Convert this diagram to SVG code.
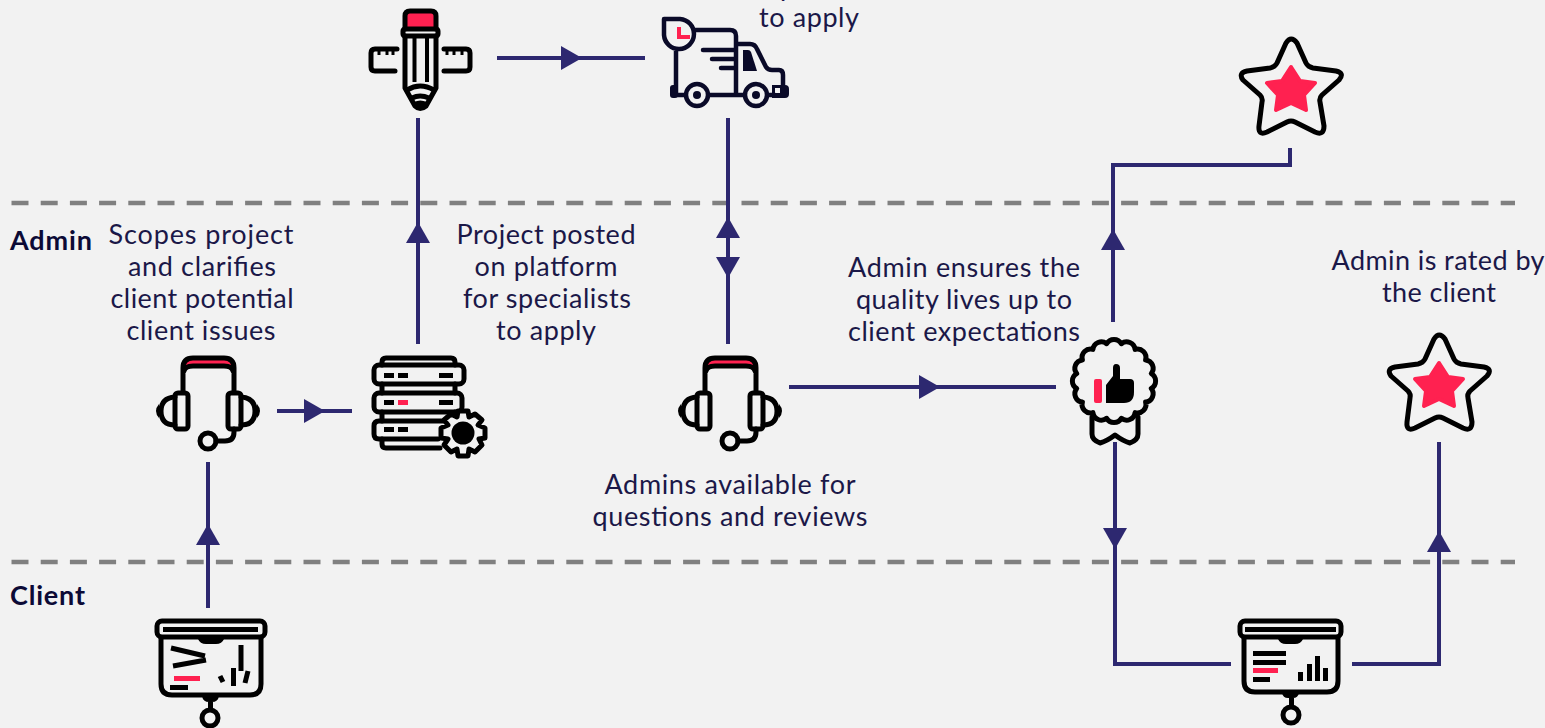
<svg xmlns="http://www.w3.org/2000/svg" xmlns:xlink="http://www.w3.org/1999/xlink" width="1545" height="728" viewBox="0 0 1545 728">
<style>
.t{font-family:"Lato","Noto Sans",sans-serif;font-size:27px;fill:#1b1848;text-anchor:middle}
.b{font-family:"Lato","Noto Sans",sans-serif;font-size:27px;font-weight:700;fill:#0c0a36}
.dash{stroke:#808080;stroke-width:4.500;stroke-dasharray:17 12.200;fill:none}
.l{fill:none;stroke:#2d2870;stroke-width:4}
.c{marker-mid:url(#tri)}
.o{fill:none;stroke:#000;stroke-width:5;stroke-linejoin:round;stroke-linecap:round}
.k{fill:#000}.r{fill:#ff2150}
.tr{fill:none;stroke:#0a0a28;stroke-width:4.500;stroke-linejoin:round;stroke-linecap:round}
</style>
<defs>
<marker id="tri" markerUnits="userSpaceOnUse" markerWidth="24" markerHeight="26" refX="10" refY="12" orient="auto"><path d="M0 0L21 12L0 24Z" fill="#2d2870"/></marker>
<g id="headset">
<path class="r" d="M183 368Q183 358 193 358H224Q234 358 234 368Q230 364 224 364H193Q187 364 183 368Z"/>
<path class="o" d="M183 392V368Q183 358 193 358H224Q234 358 234 368V392M184 371Q185 366 193 366H224Q232 366 233 371"/>
<rect class="o" x="175" y="393" width="13" height="36" rx="3"/>
<rect class="o" x="228" y="393" width="13" height="36" rx="3"/>
<path class="o" d="M175 397Q161 398 161 411Q161 425 175 425M241 397Q255 398 255 411Q255 425 241 425"/>
<path class="k" d="M159 404Q153 411 159 418ZM257 404Q263 411 257 418Z"/>
<circle class="o" cx="208" cy="441" r="8"/>
<path class="o" d="M216 441H225Q234 441 234 432V429"/>
</g>
<g id="star">
<path class="o" d="M1286 43Q1291 35 1297 43L1306 63Q1308 67 1313 68L1336 71Q1345 73 1339 80L1322 95Q1319 98 1320 102L1324 126Q1324 136 1315 132L1295 122Q1291 120 1287 122L1267 132Q1258 136 1259 126L1262 102Q1263 98 1260 95L1243 80Q1238 73 1247 71L1270 68Q1275 67 1277 63Z"/>
<path class="r" stroke="#ff2150" stroke-width="4" stroke-linejoin="round" d="M1291 67L1300 81L1315 83L1304 95L1306 110L1291 103L1276 110L1278 95L1267 83L1282 81Z"/>
</g>
</defs>
<rect width="1545" height="728" fill="#f2f2f2"/>
<g id="lanes">
<path class="dash" d="M11.500 203H1515M11.500 562H1515"/>
</g>
<g id="connectors">
<path class="l c" d="M208 608V535V462"/>
<path class="l c" d="M277 411H314H352"/>
<path class="l c" d="M418 344V233V118"/>
<path class="l c" d="M497 58H571H645"/>
<path class="l c" d="M728 344V228V118"/>
<path class="l c" d="M728 118V267V344"/>
<path class="l c" d="M789 387H929H1056"/>
<path class="l c" d="M1113 322V240V200"/>
<path class="l" d="M1113 200V165H1290V148"/>
<path class="l c" d="M1115 442V538V600"/>
<path class="l" d="M1115 600V664H1231"/>
<path class="l" d="M1352 664H1439V600"/>
<path class="l c" d="M1439 600V542V442"/>
</g>
<g id="lane-labels">
<text class="b" x="10" y="250" textLength="82">Admin</text>
<text class="b" x="10" y="605" textLength="75">Client</text>
</g>
<g id="client-start">
<rect class="o" x="157" y="621" width="108" height="16" rx="5"/>
<rect class="k" x="163" y="627" width="95" height="5"/>
<path class="o" d="M161 638V684Q161 695 172 695H250Q261 695 261 684V638"/>
<path class="k" d="M198 639H224Q222 644 216 644H206Q200 644 198 639ZM202 696H219Q218 702 212 702H209Q203 702 202 696Z"/>
<path class="k" d="M208 702h5v8h-5z"/>
<circle class="o" cx="210" cy="718" r="8"/>
<path d="M171 648L205 656M173 666L206 660M241 645V671M233.500 668V686M248 671L245 683M220 676L223 682" stroke="#000" stroke-width="5" fill="none"/>
<rect class="r" x="174" y="676" width="26" height="5"/>
<rect class="k" x="170" y="685" width="18" height="5"/>
</g>
<g id="scope-headset">
<use xlink:href="#headset"/>
<text class="t" x="201" y="244" textLength="185">Scopes project</text>
<text class="t" x="202" y="276" textLength="148">and clarifies</text>
<text class="t" x="202" y="308" textLength="183">client potential</text>
<text class="t" x="201" y="340" textLength="149">client issues</text>
</g>
<g id="server">
<path class="o" d="M382 365V362Q382 358 386 358H451Q455 358 455 362V365M382 384V393M455 384V393M382 412V421M455 412V421M382 439V444Q382 448 386 448H440"/>
<rect class="o" x="374" y="365" width="90" height="19" rx="5"/>
<rect class="o" x="374" y="393" width="88" height="19" rx="5"/>
<path class="o" d="M438 439H379Q374 439 374 434V426Q374 421 379 421H445"/>
<path fill="#f2f2f2" class="o" style="fill:#f2f2f2" d="M458 411L468 411L469 417L475 414L482 420L478 425L485 428V438L479 439L482 445L475 452L469 449L468 456H458L457 449L451 452L444 445L448 439L441 438V428L448 425L444 420L451 414L457 417Z"/>
<circle class="k" cx="463" cy="433" r="11.500"/>
<path class="k" d="M384 373h10v5h-10zM398 373h10v5h-10zM439 373h14v5h-14zM384 400h10v5h-10zM439 400h14v5h-14zM384 427h10v5h-10zM398 427h10v5h-10z"/>
<rect class="r" x="398" y="400" width="10" height="5"/>
</g>
<g id="project-text">
<text class="t" x="546" y="244" textLength="179">Project posted</text>
<text class="t" x="546" y="276" textLength="143">on platform</text>
<text class="t" x="547" y="308" textLength="168">for specialists</text>
<text class="t" x="546" y="340" textLength="100">to apply</text>
</g>
<g id="pencil">
<path class="r" d="M406 12H434V27H406Z"/>
<path class="o" d="M405 29V16Q405 11 410 11H431Q436 11 436 16V29"/>
<rect class="o" x="403" y="29" width="35" height="7" rx="2"/>
<path class="o" d="M405 36V88L415 106Q420 111 426 106L436 88V36"/>
<path d="M414.500 38V82M427 38V82" stroke="#000" stroke-width="4"/>
<path class="o" d="M407 90Q420 82 434 90M412 98Q420 94 429 98"/>
<path class="k" d="M414 102Q420 99 427 102L424 108Q420 111 417 108Z"/>
<path class="o" d="M397 49H375Q371 49 371 53V67Q371 71 375 71H395M444 49H466Q470 49 470 53V67Q470 71 466 71H444"/>
<path d="M379 50V55M387 50V55M393 50V55M447 50V55M454 50V55M462 50V55" stroke="#000" stroke-width="3"/>
</g>
<g id="truck">
<path class="tr" d="M664 19H680A15 15 0 1 1 664 35ZM676 50V93M695 30H730Q736 30 736 36V95M736 44H750Q755 44 757 49L766 67Q768 70 772 70H779Q783 70 783 75V87M703 50H735M712 59H735M721 68H735M676 95H684M709 95H744M768 95H775"/>
<path class="r" d="M677 27h4v8h9v4h-13z"/>
<path fill="#0a0a28" d="M743 50H748Q750 50 751 52L757 71H743Z"/>
<rect x="670" y="85" width="8" height="13" rx="3" fill="#0a0a28"/>
<path fill="#0a0a28" fill-rule="evenodd" d="M772 85H785Q789 85 789 89V94Q789 98 785 98H772ZM775 88V93H780V88Z"/>
<circle class="tr" cx="697" cy="95" r="11"/><circle fill="#0a0a28" cx="697" cy="95" r="4"/>
<circle class="tr" cx="756" cy="95" r="11"/><circle fill="#0a0a28" cx="756" cy="95" r="4"/>
<text class="t" x="809" y="-4.500" textLength="168">for specialists</text>
<text class="t" x="809" y="27" textLength="100">to apply</text>
</g>
<g id="review-headset">
<use xlink:href="#headset" x="522"/>
<text class="t" x="730" y="494" textLength="251">Admins available for</text>
<text class="t" x="730" y="526" textLength="275">questions and reviews</text>
</g>
<g id="quality-badge">
<path class="o" d="M1121.400 343.700A8.500 8.500 0 0 1 1135.100 349.400A8.500 8.500 0 0 1 1145.600 359.900A8.500 8.500 0 0 1 1151.300 373.600A8.500 8.500 0 0 1 1151.300 388.400A8.500 8.500 0 0 1 1145.600 402.100A8.500 8.500 0 0 1 1135.100 412.600A8.500 8.500 0 0 1 1121.400 418.300A8.500 8.500 0 0 1 1106.600 418.300A8.500 8.500 0 0 1 1092.900 412.600A8.500 8.500 0 0 1 1082.400 402.100A8.500 8.500 0 0 1 1076.700 388.400A8.500 8.500 0 0 1 1076.700 373.600A8.500 8.500 0 0 1 1082.400 359.900A8.500 8.500 0 0 1 1092.900 349.400A8.500 8.500 0 0 1 1106.600 343.700A8.500 8.500 0 0 1 1121.400 343.700Z"/>
<path class="o" d="M1092 417V434Q1092 440 1100 443Q1107 441 1115 435Q1123 441 1130 443Q1138 440 1138 434V417"/>
<rect class="r" x="1094" y="379" width="8" height="24" rx="2"/>
<path class="k" d="M1106 403V385L1113 376V368Q1113 364 1116 364Q1120 364 1120 368V379H1130Q1134 379 1134 383V392Q1134 403 1124 403Z"/>
<text class="t" x="964" y="277" textLength="232">Admin ensures the</text>
<text class="t" x="964" y="309" textLength="216">quality lives up to</text>
<text class="t" x="964" y="341" textLength="232">client expectations</text>
</g>
<g id="top-star"><use xlink:href="#star"/></g>
<g id="rated-star">
<use xlink:href="#star" x="148" y="296"/>
<text class="t" x="1438" y="270" textLength="213">Admin is rated by</text>
<text class="t" x="1439" y="302" textLength="114">the client</text>
</g>
<g id="client-review">
<rect class="o" x="1240" y="621" width="101" height="16" rx="5"/>
<rect class="k" x="1245" y="627" width="91" height="5"/>
<path class="o" d="M1244 638V681Q1244 692 1255 692H1327Q1338 692 1338 681V638"/>
<path class="k" d="M1278 639H1303Q1301 644 1295 644H1286Q1280 644 1278 639ZM1282 693H1299Q1298 698 1293 698H1288Q1283 698 1282 693Z"/>
<path class="k" d="M1289 698h5v8h-5z"/>
<circle class="o" cx="1291" cy="715" r="8"/>
<path class="k" d="M1253 651h33v5h-33zM1253 660h33v5h-33zM1253 677h17v5h-17zM1298 672h5v9h-5zM1307 664h5v17h-5zM1315 656h5v25h-5zM1323 668h5v13h-5z"/>
<rect class="r" x="1253" y="668" width="25" height="5"/>
</g>
</svg>
